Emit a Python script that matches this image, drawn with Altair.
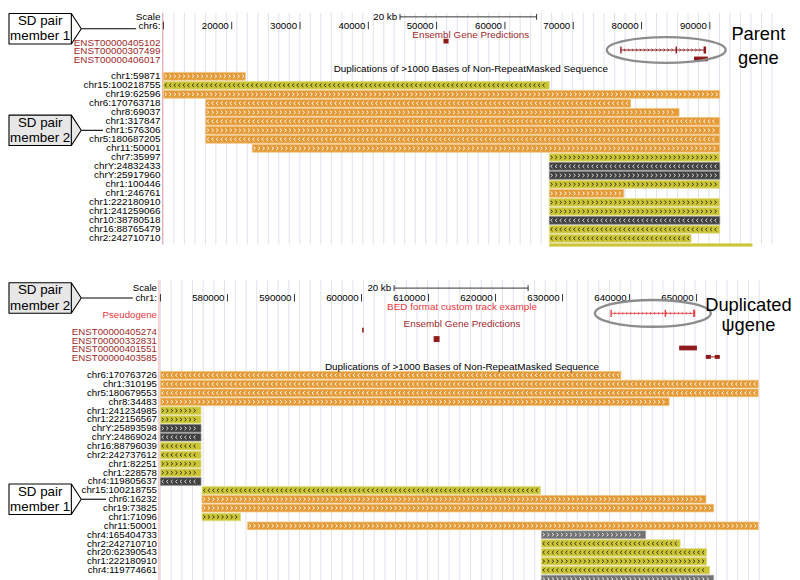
import altair as alt
import numpy as np
import pandas as pd

FONT = "Liberation Sans"

# ---------------- TOP PANEL: chr6 (parent gene) ----------------
TOP_VIEW = [10000, 100000]
TOP_TICKS = [20000, 30000, 40000, 50000, 60000, 70000, 80000, 90000]
TOP_RULER = [44640, 64640]
TOP_CHROM = "chr6:"
TOP_TRACKS = ["ENST00000405102", "ENST00000307499", "ENST00000406017"]
TOP_TRACK_KIND = ["ensembl", "ensembl", "ensembl"]
TOP_EXON_TRACK = [0, 1, 1, 1, 2]
TOP_EXON_START = [51000, 76880, 84990, 89080, 87680]
TOP_EXON_END = [51750, 77080, 85190, 89450, 89710]
TOP_EXON_KIND = ["block", "tick", "tick", "tick", "block"]
TOP_INTRON_TRACK = [1]
TOP_INTRON_START = [76950]
TOP_INTRON_END = [89420]
TOP_INTRON_ARROWS = [True]
TOP_HIGHLIGHT = 1
TOP_HIGHLIGHT_TEXT = "Parent\ngene"
TOP_TITLES = ["Ensembl Gene Predictions",
              "Duplications of >1000 Bases of Non-RepeatMasked Sequence"]
TOP_TITLE_KIND = ["ensembl", "dup"]
TOP_CALLOUTS = [("SD pair\nmember 1", "1", "chr6:"), ("SD pair\nmember 2", "2", "chr1:576306")]

TOP_DUP_LABEL = ["chr1:59871", "chr15:100218755", "chr19:62596", "chr6:170763718", "chr8:69037",
                 "chr1:317847", "chr1:576306", "chr5:180687205", "chr11:50001", "chr7:35997",
                 "chrY:24832433", "chrY:25917960", "chr1:100446", "chr1:246761", "chr1:222180910",
                 "chr1:241259066", "chr10:38780518", "chr16:88765479", "chr2:242710710", ""]
TOP_DUP_START = [10000, 10000, 10000, 16200, 16200, 16200, 16200, 16200, 23000, 66500,
                 66500, 66500, 66500, 66500, 66500, 66500, 66500, 66500, 66500, 66500]
TOP_DUP_END = [22000, 66500, 91450, 78400, 85500, 91450, 91450, 91450, 91450, 91450,
               91450, 91450, 91450, 77400, 91450, 91450, 91450, 91450, 87250, 96200]
TOP_DUP_STRAND = ["+", "-", "+", "-", "+", "-", "+", "-", "+", "+",
                  "-", "+", "+", "+", "+", "+", "-", "-", "-", "+"]
TOP_DUP_LEVEL = ["orange", "yellow", "orange", "orange", "orange", "orange", "orange", "orange",
                 "orange", "yellow", "dark", "dark", "yellow", "orange", "yellow", "yellow",
                 "dark", "yellow", "yellow", "yellow"]

# ---------------- BOTTOM PANEL: chr1 (duplicated pseudogene) ----------------
BOT_VIEW = [570000, 660000]
BOT_TICKS = [580000, 590000, 600000, 610000, 620000, 630000, 640000, 650000]
BOT_RULER = [604860, 624860]
BOT_CHROM = "chr1:"
BOT_TRACKS = ["Pseudogene", "ENST00000405274", "ENST00000332831", "ENST00000401551", "ENST00000403585"]
BOT_TRACK_KIND = ["custom", "ensembl", "ensembl", "ensembl", "ensembl"]
BOT_EXON_TRACK = [0, 0, 0, 1, 2, 3, 4, 4]
BOT_EXON_START = [637140, 645230, 649480, 600100, 610770, 647400, 651390, 652720]
BOT_EXON_END = [637360, 645450, 649800, 600330, 611650, 650050, 652130, 653460]
BOT_EXON_KIND = ["tick", "tick", "tick", "block", "box", "block", "small", "small"]
BOT_INTRON_TRACK = [0, 4]
BOT_INTRON_START = [637250, 651390]
BOT_INTRON_END = [649700, 653460]
BOT_INTRON_ARROWS = [True, False]
BOT_HIGHLIGHT = 0
BOT_HIGHLIGHT_TEXT = "Duplicated\n\u03c8gene"
BOT_TITLES = ["BED format custom track example", "Ensembl Gene Predictions",
              "Duplications of >1000 Bases of Non-RepeatMasked Sequence"]
BOT_TITLE_KIND = ["custom", "ensembl", "dup"]
BOT_CALLOUTS = [("SD pair\nmember 2", "2", "chr1:"), ("SD pair\nmember 1", "1", "chr6:16232")]

BOT_DUP_LABEL = ["chr6:170763726", "chr1:310195", "chr5:180679553", "chr8:34483", "chr1:241234985",
                 "chr1:222156567", "chrY:25893598", "chrY:24869024", "chr16:88796039", "chr2:242737612",
                 "chr1:82251", "chr1:228578", "chr4:119805637", "chr15:100218755", "chr6:16232",
                 "chr19:73825", "chr1:71096", "chr11:50001", "chr4:165404733", "chr2:242710710",
                 "chr20:62390543", "chr1:222180910", "chr4:119774661", ""]
BOT_DUP_START = [570000] * 13 + [576200] * 4 + [583000] + [626850] * 6
BOT_DUP_END = [638700, 659200, 659200, 645900] + [576050] * 9 + \
              [626700, 651400, 652550, 581950, 659200, 642400, 647550, 651500, 651500, 651950, 652550]
BOT_DUP_STRAND = ["-", "-", "-", "+", "+", "+", "+", "-", "-", "-", "+", "+", "-",
                  "-", "+", "+", "+", "+", "+", "-", "-", "+", "-", "+"]
BOT_DUP_LEVEL = ["orange", "orange", "orange", "orange", "yellow", "yellow", "dark", "dark",
                 "yellow", "yellow", "yellow", "yellow", "dark", "yellow", "orange", "orange",
                 "yellow", "orange", "gray", "yellow", "yellow", "yellow", "yellow", "gray"]

# ---------------- styles ----------------
LEVELS = ["orange", "yellow", "dark", "gray"]
LEVEL_FILL = ["#e49b37", "#cbc536", "#414141", "#727272"]
LEVEL_EDGE = ["#f2c37f", "#e0dc86", "#858585", "#a3a3a3"]
LEVEL_CHEV = ["#ffffff", "#2c2c0e", "#e4e4e4", "#f0f0f0"]
KINDS = ["ensembl", "custom", "dup"]
KIND_TEXT = ["#9c2a2a", "#e5373d", "#000000"]
KIND_GLYPH = ["#901b1b", "#e4494e", "#000000"]
EXON_HALF_PX = {"tick": 3.6, "block": 2.4, "box": 3.0, "small": 2.0}
RIGHT = "M-0.55,-1L0.55,0L-0.55,1"
LEFT = "M0.55,-1L-0.55,0L0.55,1"
CALLOUT = "M-1,-0.42L0.726,-0.42L1,0L0.726,0.42L-1,0.42ZM0.726,-0.42L0.726,0.42"
CHAR_W = {"c": .5, "h": .556, "r": .333, ":": .278, "Y": .667}


def ellipse_path(k):
    c = 0.5523
    return (f"M-1,0C-1,{-c*k:.4f},{-c:.4f},{-k:.4f},0,{-k:.4f}"
            f"C{c:.4f},{-k:.4f},1,{-c*k:.4f},1,0"
            f"C1,{c*k:.4f},{c:.4f},{k:.4f},0,{k:.4f}"
            f"C{-c:.4f},{k:.4f},-1,{c*k:.4f},-1,0Z")


def text_w(s, fs):
    return fs * sum(CHAR_W.get(ch, .556) for ch in s)


def panel(d, L):
    top, H, first, step = L["top"], L["H"], L["first"], L["step"]

    def R(py):
        return (py - top - first) / step

    r_end = R(top + H)
    view = d["view"]
    ppb = (L["xrange"][1] - L["xrange"][0]) / (view[1] - view[0])
    xs = alt.Scale(domain=view, range=L["xrange"], nice=False, zero=False)
    ys = alt.Scale(domain=[R(top), r_end], range=[0, H], nice=False, zero=False)
    kind_text = alt.Scale(domain=KINDS, range=KIND_TEXT)
    kind_glyph = alt.Scale(domain=KINDS, range=KIND_GLYPH)

    def X(f):
        return alt.X(f, type="quantitative", scale=xs, axis=None)

    def Y(f):
        return alt.Y(f, type="quantitative", scale=ys, axis=None)

    one = pd.DataFrame({"k": [0]})
    layers = []

    # guide lines
    grid = pd.DataFrame({"g": np.arange(view[0], view[1] + 1, L["grid_px"] / ppb)})
    layers.append(alt.Chart(grid).mark_rule(color="#e1e1ef", strokeWidth=1).encode(
        x=X("g"), y=alt.value(2), y2=alt.value(L["grid_bottom"])))
    layers.append(alt.Chart(one).mark_rule(color="#f0a9a9", strokeWidth=1).encode(
        x=alt.value(L["divx"]), y=alt.value(2), y2=alt.value(L["grid_bottom"])))

    # duplication bars (clamped to the panel, as in a cropped screenshot)
    dup = pd.DataFrame(dict(label=d["dup_label"], start=d["dup_start"], stop=d["dup_end"],
                            strand=d["dup_strand"], level=d["dup_level"]))
    dup["r"] = np.arange(len(dup), dtype=float)
    lim = r_end - 1.0 / step
    dup["y0"] = np.minimum(dup["r"] - 0.43, lim)
    dup["y1"] = np.minimum(dup["r"] + 0.43, lim)
    layers.append(alt.Chart(dup).mark_rect(strokeWidth=0.8).encode(
        x=X("start"), x2="stop", y=Y("y0"), y2="y1",
        color=alt.Color("level:N", scale=alt.Scale(domain=LEVELS, range=LEVEL_FILL), legend=None),
        stroke=alt.Stroke("level:N", scale=alt.Scale(domain=LEVELS, range=LEVEL_EDGE), legend=None)))

    bp = L["chev_px"] / ppb
    recs = []
    for row in dup.itertuples():
        if row.r > r_end - 4.5 / step:
            continue
        n = int((row.stop - row.start) / bp)
        for k in range(n):
            recs.append((row.start + bp * (k + 0.5), row.r, row.strand, row.level))
    chev = pd.DataFrame(recs, columns=["x", "r", "strand", "level"])
    layers.append(alt.Chart(chev).mark_point(filled=False, size=12, strokeWidth=0.95,
                                             strokeJoin="round", opacity=1).encode(
        x=X("x"), y=Y("r"),
        shape=alt.Shape("strand:N", scale=alt.Scale(domain=["+", "-"], range=[RIGHT, LEFT]), legend=None),
        color=alt.Color("level:N", scale=alt.Scale(domain=LEVELS, range=LEVEL_CHEV), legend=None)))

    lab = dup[dup["r"] <= r_end - 4.5 / step]
    layers.append(alt.Chart(lab).mark_text(align="right", baseline="middle", font=FONT,
                                           fontSize=L["label_fs"], color="black").encode(
        x=alt.value(L["labelx"]), y=Y("r"), text="label:N"))

    # header: Scale / chrom
    hdr = pd.DataFrame({"t": ["Scale", d["chrom"]], "r": [R(L["y_scale"]), R(L["y_chrom"])]})
    layers.append(alt.Chart(hdr).mark_text(align="right", baseline="middle", font=FONT,
                                           fontSize=L["label_fs"], color="black").encode(
        x=alt.value(L["labelx"]), y=Y("r"), text="t:N"))

    # position ticks
    tk = pd.DataFrame({"v": [view[0]] + d["ticks"], "t": [""] + [str(v) for v in d["ticks"]]})
    tk["r"] = R(L["y_chrom"])
    tk["r0"] = R(L["y_chrom"] - 4)
    tk["r1"] = R(L["y_chrom"] + 3.5)
    layers.append(alt.Chart(tk).mark_text(align="right", baseline="middle", dx=-3, font=FONT,
                                          fontSize=L["tick_fs"], color="black").encode(
        x=X("v"), y=Y("r"), text="t:N"))
    layers.append(alt.Chart(tk).mark_rule(color="#333333", strokeWidth=1).encode(
        x=X("v"), y=Y("r0"), y2="r1"))

    # 20 kb ruler
    a, b = d["ruler"]
    ru = pd.DataFrame({"a": [a], "b": [b], "t": [f"{(b - a) // 1000} kb"], "r": [R(L["y_ruler"])]})
    layers.append(alt.Chart(ru).mark_rule(color="#333333", strokeWidth=1).encode(
        x=X("a"), x2="b", y=Y("r")))
    layers.append(alt.Chart(ru).mark_text(align="right", baseline="middle", dx=-3, font=FONT,
                                          fontSize=L["tick_fs"], color="black").encode(
        x=X("a"), y=Y("r"), text="t:N"))
    ends = pd.DataFrame({"v": [a, b], "r0": R(L["y_ruler"] - 3), "r1": R(L["y_ruler"] + 3)})
    layers.append(alt.Chart(ends).mark_rule(color="#333333", strokeWidth=1).encode(
        x=X("v"), y=Y("r0"), y2="r1"))

    # track titles
    ti = pd.DataFrame({"t": d["titles"], "kind": d["title_kind"],
                       "r": [R(y) for y in L["title_y"]], "xm": (view[0] + view[1]) / 2})
    layers.append(alt.Chart(ti).mark_text(align="center", baseline="middle", font=FONT,
                                          fontSize=10).encode(
        x=X("xm"), y=Y("r"), text="t:N", color=alt.Color("kind:N", scale=kind_text, legend=None)))

    # gene tracks
    tr = pd.DataFrame({"name": d["tracks"], "kind": d["track_kind"], "r": [R(y) for y in L["track_y"]]})
    layers.append(alt.Chart(tr).mark_text(align="right", baseline="middle", dy=1.5, font=FONT,
                                          fontSize=L["label_fs"]).encode(
        x=alt.value(L["labelx"]), y=Y("r"), text="name:N",
        color=alt.Color("kind:N", scale=kind_text, legend=None)))

    it = pd.DataFrame({"track": d["intron_track"], "start": d["intron_start"],
                       "stop": d["intron_end"], "arrows": d["intron_arrows"]})
    it["r"] = tr["r"].values[it["track"].values]
    it["kind"] = tr["kind"].values[it["track"].values]
    layers.append(alt.Chart(it).mark_rule(strokeWidth=1).encode(
        x=X("start"), x2="stop", y=Y("r"),
        color=alt.Color("kind:N", scale=kind_glyph, legend=None)))
    abp = 4.0 / ppb
    arecs = []
    for row in it[it["arrows"]].itertuples():
        n = int((row.stop - row.start) / abp)
        for k in range(1, n):
            arecs.append((row.start + abp * k, row.r, row.kind))
    arr = pd.DataFrame(arecs, columns=["x", "r", "kind"])
    layers.append(alt.Chart(arr).mark_point(shape=RIGHT, filled=False, size=7, strokeWidth=0.8,
                                            opacity=1).encode(
        x=X("x"), y=Y("r"), color=alt.Color("kind:N", scale=kind_glyph, legend=None)))

    ex = pd.DataFrame({"track": d["exon_track"], "start": d["exon_start"], "stop": d["exon_end"],
                       "ek": d["exon_kind"]})
    ex["r"] = tr["r"].values[ex["track"].values]
    ex["kind"] = tr["kind"].values[ex["track"].values]
    half = ex["ek"].map(EXON_HALF_PX) / step
    ex["y0"] = ex["r"] - half
    ex["y1"] = ex["r"] + half
    layers.append(alt.Chart(ex).mark_rect().encode(
        x=X("start"), x2="stop", y=Y("y0"), y2="y1",
        color=alt.Color("kind:N", scale=kind_glyph, legend=None)))

    # highlight ellipse + big label
    hi = it[it["track"] == d["highlight"]]
    ew, eh = L["ell"]
    hdf = pd.DataFrame({"x": [(hi["start"].min() + hi["stop"].max()) / 2 + L["ell_shift"] / ppb],
                        "r": [hi["r"].iloc[0]]})
    layers.append(alt.Chart(hdf).mark_point(shape=ellipse_path(eh / ew), size=ew * ew, filled=False,
                                            color="#8c8c8c", strokeWidth=2.4, strokeJoin="round",
                                            opacity=1).encode(
        x=X("x"), y=Y("r")))
    bt = pd.DataFrame({"t": [d["highlight_text"]], "r": [R(L["big_y"])]})
    layers.append(alt.Chart(bt).mark_text(align="center", baseline="alphabetic", lineBreak="\n",
                                          lineHeight=L["big_lh"], fontSize=18.5, font=FONT,
                                          color="black").encode(
        x=alt.value(L["big_x"]), y=Y("r"), text="t:N"))

    # SD pair callouts
    for (txt, member, target), dy in zip(d["callouts"], L["callout_dy"]):
        if target == d["chrom"]:
            r = R(L["y_chrom"] + dy)
        else:
            r = float(d["dup_label"].index(target)) + dy / step
        cdf = pd.DataFrame({"t": [txt], "member": [member], "r": [r]})
        end_x = L["labelx"] - text_w(target, L["label_fs"]) - 2.5
        layers.append(alt.Chart(cdf).mark_rule(color="black", strokeWidth=1.1).encode(
            x=alt.value(74), x2=alt.value(end_x), y=Y("r")))
        layers.append(alt.Chart(cdf).mark_point(shape=CALLOUT, size=73 * 73, filled=True,
                                                stroke="black", strokeWidth=1.1, strokeJoin="round",
                                                opacity=1).encode(
            x=alt.value(37.5), y=Y("r"),
            color=alt.Color("member:N", scale=alt.Scale(domain=["1", "2"], range=["#ffffff", "#e7e7e7"]),
                            legend=None)))
        layers.append(alt.Chart(cdf).mark_text(align="center", baseline="middle", lineBreak="\n",
                                               lineHeight=15.5, dy=-7.75, fontSize=13.5, font=FONT,
                                               color="black").encode(
            x=alt.value(32.5), y=Y("r"), text="t:N"))

    return alt.layer(*layers).properties(width=784, height=H).resolve_scale(
        color="independent", stroke="independent", shape="independent")


top_data = dict(view=TOP_VIEW, ticks=TOP_TICKS, ruler=TOP_RULER, chrom=TOP_CHROM,
                tracks=TOP_TRACKS, track_kind=TOP_TRACK_KIND,
                exon_track=TOP_EXON_TRACK, exon_start=TOP_EXON_START, exon_end=TOP_EXON_END,
                exon_kind=TOP_EXON_KIND, intron_track=TOP_INTRON_TRACK,
                intron_start=TOP_INTRON_START, intron_end=TOP_INTRON_END,
                intron_arrows=TOP_INTRON_ARROWS, highlight=TOP_HIGHLIGHT,
                highlight_text=TOP_HIGHLIGHT_TEXT, titles=TOP_TITLES, title_kind=TOP_TITLE_KIND,
                callouts=TOP_CALLOUTS, dup_label=TOP_DUP_LABEL, dup_start=TOP_DUP_START,
                dup_end=TOP_DUP_END, dup_strand=TOP_DUP_STRAND, dup_level=TOP_DUP_LEVEL)
top_layout = dict(top=8, H=239, first=66, step=9.1, xrange=[157, 778], labelx=154, divx=156,
                  label_fs=10, tick_fs=9.8, y_scale=14, y_chrom=23, y_ruler=14,
                  title_y=[32, 67], track_y=[38.5, 47.5, 56.5], big_x=758, big_y=37, big_lh=25,
                  ell=(120, 26), ell_shift=3, grid_px=10.6, chev_px=4.6, callout_dy=[3, 0],
                  grid_bottom=236)

bot_data = dict(view=BOT_VIEW, ticks=BOT_TICKS, ruler=BOT_RULER, chrom=BOT_CHROM,
                tracks=BOT_TRACKS, track_kind=BOT_TRACK_KIND,
                exon_track=BOT_EXON_TRACK, exon_start=BOT_EXON_START, exon_end=BOT_EXON_END,
                exon_kind=BOT_EXON_KIND, intron_track=BOT_INTRON_TRACK,
                intron_start=BOT_INTRON_START, intron_end=BOT_INTRON_END,
                intron_arrows=BOT_INTRON_ARROWS, highlight=BOT_HIGHLIGHT,
                highlight_text=BOT_HIGHLIGHT_TEXT, titles=BOT_TITLES, title_kind=BOT_TITLE_KIND,
                callouts=BOT_CALLOUTS, dup_label=BOT_DUP_LABEL, dup_start=BOT_DUP_START,
                dup_end=BOT_DUP_END, dup_strand=BOT_DUP_STRAND, dup_level=BOT_DUP_LEVEL)
bot_layout = dict(top=278, H=310, first=98, step=8.95, xrange=[154, 763.3], labelx=150.5, divx=152.5,
                  label_fs=9.8, tick_fs=9.8, y_scale=288, y_chrom=298, y_ruler=288,
                  title_y=[307, 324, 368], track_y=[313.5, 330.5, 339.5, 348.5, 357.5],
                  big_x=748, big_y=311, big_lh=20, ell=(117, 27), ell_shift=0, grid_px=10.8,
                  chev_px=4.6, callout_dy=[0, 0], grid_bottom=308)

chart = alt.vconcat(panel(top_data, top_layout), panel(bot_data, bot_layout), spacing=31).properties(
    padding=0, background="white").configure_view(strokeWidth=0)

chart.save("out.html", embed_options={"renderer": "svg", "actions": False})
